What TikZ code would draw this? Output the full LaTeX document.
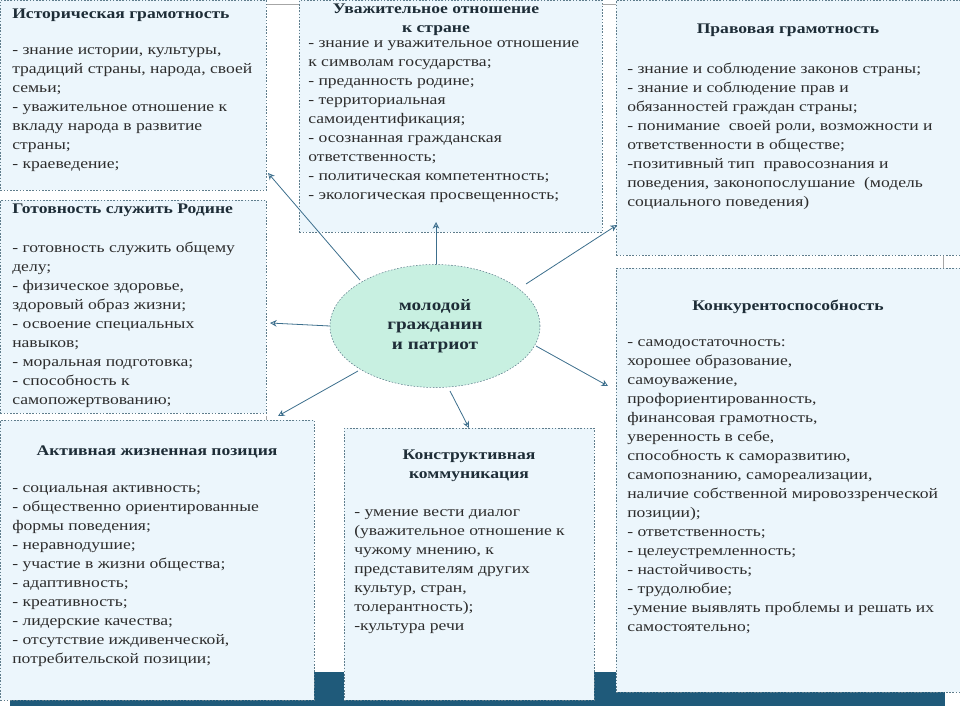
\documentclass[tikz,border=0pt]{standalone}
\usepackage{fontspec}
\setmainfont{Liberation Serif}[FakeStretch=1.2]
\usetikzlibrary{shapes.geometric,arrows.meta}
\definecolor{bfill}{RGB}{236,246,252}
\definecolor{bline}{RGB}{95,125,140}
\definecolor{efill}{RGB}{200,240,225}
\definecolor{strip}{RGB}{31,90,122}
\definecolor{ttlc}{RGB}{30,45,55}
\definecolor{txtc}{RGB}{45,45,45}
\definecolor{arrc}{RGB}{60,110,140}
\begin{document}
\begin{tikzpicture}[x=0.75pt,y=-0.75pt,
  box/.style={draw=bline,dash pattern=on 1.2pt off 1.2pt,fill=bfill,anchor=north west,inner sep=0pt,line width=0.6pt},
  txt/.style={anchor=north west,align=left,inner sep=0pt,font=\fontsize{11}{14.25}\selectfont,text=txtc},
  ttl/.style={anchor=north,align=center,inner sep=0pt,font=\fontsize{11}{14.25}\selectfont\bfseries,text=ttlc},
  arr/.style={-{Stealth[open,length=5pt,width=5pt]},draw=arrc,line width=0.6pt}]
\useasboundingbox (0,0) rectangle (960,720);
\fill[strip] (10,672) rectangle (945,706);
\draw[gray!70] (266,4) -- (299,4) (602,4) -- (616,4) (943,255) -- (943,268) (266,416) -- (266,420);
\node[box,minimum width=266*0.75pt,minimum height=190*0.75pt] (b1) at (0,0) {};
\node[box,minimum width=303*0.75pt,minimum height=232*0.75pt] (b2) at (299,0) {};
\node[box,minimum width=344*0.75pt,minimum height=255*0.75pt] (b3) at (616,0) {};
\node[box,minimum width=266*0.75pt,minimum height=213*0.75pt] (b4) at (0,200) {};
\node[box,minimum width=344*0.75pt,minimum height=424*0.75pt] (b5) at (616,268) {};
\node[box,minimum width=314*0.75pt,minimum height=280*0.75pt] (b6) at (0,420) {};
\node[box,minimum width=250*0.75pt,minimum height=272*0.75pt] (b7) at (344,428) {};
\node[draw=bline,dash pattern=on 1.2pt off 1.2pt,fill=efill,ellipse,minimum width=210*0.75pt,minimum height=123*0.75pt,inner sep=0pt,align=center,font=\fontsize{12}{14.5}\selectfont\bfseries,text=ttlc] (c) at (435,326) {молодой\\гражданин\\и патриот};
% texts
\node[txt,font=\fontsize{11}{14.25}\selectfont\bfseries,text=ttlc] (t1) at (12,9) {Историческая грамотность};
\node[txt] (l1) at (12,47) {- знание истории, культуры,\\традиций страны, народа, своей\\семьи;\\- уважительное отношение к\\вкладу народа в развитие\\страны;\\- краеведение;};
\node[ttl] (t2) at (436,4) {Уважительное отношение\\к стране};
\node[txt] (l2) at (308,40) {- знание и уважительное отношение\\к символам государства;\\- преданность родине;\\- территориальная\\самоидентификация;\\- осознанная гражданская\\ответственность;\\- политическая компетентность;\\- экологическая просвещенность;};
\node[ttl] (t3) at (788,24) {Правовая грамотность};
\node[txt] (l3) at (627,63) {- знание и соблюдение законов страны;\\- знание и соблюдение прав и\\обязанностей граждан страны;\\- понимание\ \ своей роли, возможности и\\ответственности в обществе;\\-позитивный тип\ \ правосознания и\\поведения, законопослушание\ \ (модель\\социального поведения)};
\node[txt,font=\fontsize{11}{14.25}\selectfont\bfseries,text=ttlc] (t4) at (12,204) {Готовность служить Родине};
\node[txt] (l4) at (12,242) {- готовность служить общему\\делу;\\- физическое здоровье,\\здоровый образ жизни;\\- освоение специальных\\навыков;\\- моральная подготовка;\\- способность к\\самопожертвованию;};
\node[ttl] (t5) at (788,300) {Конкурентоспособность};
\node[txt] (l5) at (627,339) {- самодостаточность:\\хорошее образование,\\самоуважение,\\профориентированность,\\финансовая грамотность,\\уверенность в себе,\\способность к саморазвитию,\\самопознанию, самореализации,\\наличие собственной мировоззренческой\\позиции);\\- ответственность;\\- целеустремленность;\\- настойчивость;\\- трудолюбие;\\-умение выявлять проблемы и решать их\\самостоятельно;};
\node[ttl] (t6) at (157,446) {Активная жизненная позиция};
\node[txt] (l6) at (12,485) {- социальная активность;\\- общественно ориентированные\\формы поведения;\\- неравнодушие;\\- участие в жизни общества;\\- адаптивность;\\- креативность;\\- лидерские качества;\\- отсутствие иждивенческой,\\потребительской позиции;};
\node[ttl] (t7) at (469,450) {Конструктивная\\коммуникация};
\node[txt] (l7) at (354,509) {- умение вести диалог\\(уважительное отношение к\\чужому мнению, к\\представителям других\\культур, стран,\\толерантность);\\-культура речи};
% arrows
\coordinate (e1) at (268,173);
\coordinate (e2) at (436,222);
\coordinate (e3) at (617,225);
\coordinate (e4) at (270,323);
\coordinate (e5) at (608,386);
\coordinate (e6) at (278,416);
\coordinate (e7) at (469,428);
\coordinate (s1) at (360,280);
\coordinate (s3) at (526,284);
\coordinate (s5) at (536,346);
\coordinate (s6) at (358,371);
\coordinate (s7) at (450,391);
\draw[arr] (s1) -- (e1);
\draw[arr] (c.north -| e2) -- (e2);
\draw[arr] (s3) -- (e3);
\draw[arr] (c.west) -- (e4);
\draw[arr] (s5) -- (e5);
\draw[arr] (s6) -- (e6);
\draw[arr] (s7) -- (e7);
\end{tikzpicture}
\end{document}
